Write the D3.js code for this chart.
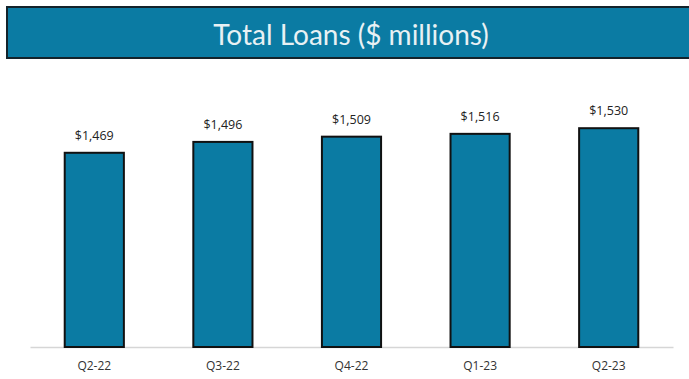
<!DOCTYPE html>
<html>
<head>
<meta charset="utf-8">
<script src="https://cdn.jsdelivr.net/npm/d3@7"></script>
<style>
  html, body { margin: 0; padding: 0; background: #ffffff; }
  svg { display: block; }
</style>
</head>
<body>
<svg id="chart" width="689" height="379"></svg>
<script>
// Quarterly totals, $ millions
const quarters = ["Q2-22", "Q3-22", "Q4-22", "Q1-23", "Q2-23"];
const loans = [1469, 1496, 1509, 1516, 1530];
const titleText = "Total Loans ($ millions)";

const W = 689, H = 379;
const svg = d3.select("#chart");
const teal = "#0b7ba3";

// Title banner
svg.append("rect")
  .attr("x", 7).attr("y", 7)
  .attr("width", 700).attr("height", 51)
  .attr("fill", teal)
  .attr("stroke", "#13232b").attr("stroke-width", 2);

svg.append("text")
  .attr("x", 351).attr("y", 34)
  .attr("text-anchor", "middle")
  .attr("dominant-baseline", "central")
  .attr("font-family", "Lato, 'Open Sans', sans-serif")
  .attr("font-size", 28)
  .attr("fill", "#e8f1f4")
  .text(titleText);

// Scales
const x = d3.scaleBand()
  .domain(quarters)
  .range([30, 673])
  .paddingInner(0.54)
  .paddingOuter(0.27);

const y = d3.scaleLinear()
  .domain([987, 1600])
  .range([347, 100]);

// Baseline axis
const axis = d3.axisBottom(x).tickSize(0).tickPadding(14);
const gAxis = svg.append("g")
  .attr("transform", `translate(0,${y(987)})`)
  .call(axis);
gAxis.select(".domain").attr("stroke", "#d6d6d6").attr("stroke-width", 1.5);
gAxis.selectAll("text")
  .attr("font-family", "'Open Sans', 'Liberation Sans', sans-serif")
  .attr("font-size", 12)
  .attr("fill", "#333");

// Bars
svg.append("g").selectAll("rect")
  .data(loans)
  .join("rect")
  .attr("x", (d, i) => x(quarters[i]))
  .attr("y", d => y(d))
  .attr("width", x.bandwidth())
  .attr("height", d => y(987) - y(d))
  .attr("fill", teal)
  .attr("stroke", "#111")
  .attr("stroke-width", 2);

// Value labels
svg.append("g").selectAll("text")
  .data(loans)
  .join("text")
  .attr("x", (d, i) => x(quarters[i]) + x.bandwidth() / 2)
  .attr("y", d => y(d) - 13)
  .attr("text-anchor", "middle")
  .attr("font-family", "'Open Sans', 'Liberation Sans', sans-serif")
  .attr("font-size", 12.5)
  .attr("fill", "#222")
  .text(d => "$" + d3.format(",")(d));
</script>
</body>
</html>
